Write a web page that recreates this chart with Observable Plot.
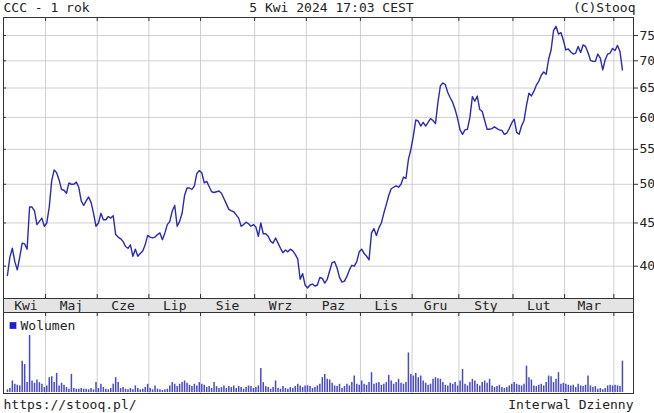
<!DOCTYPE html>
<html>
<head>
<meta charset="utf-8">
<script src="https://cdn.jsdelivr.net/npm/d3@7"></script>
<script src="https://cdn.jsdelivr.net/npm/@observablehq/plot@0.6"></script>
<style>
  html, body { margin: 0; padding: 0; background: #fff; }
  #chart { position: relative; width: 654px; height: 413px; background: #fff; overflow: hidden; }
  #chart svg { position: absolute; left: 0; }
</style>
</head>
<body>
<div id="chart"></div>
<script>
// ---- Data (trading-day index 0..250, 5 Apr 2023 .. 5 Apr 2024) ----
const closePrices = [
  39.0, 41.0, 42.0, 40.5, 39.6, 41.0, 42.6, 42.5, 41.9, 47.0,
  47.0, 46.5, 44.8, 45.2, 45.6, 44.6, 45.0, 47.0, 50.5, 52.0,
  51.6, 50.6, 49.3, 49.2, 48.8, 50.2, 50.0, 50.0, 50.3, 49.6,
  47.8, 47.2, 47.8, 48.3, 47.6, 46.2, 44.6, 45.0, 46.2, 45.4,
  45.4, 45.8, 45.6, 45.9, 43.6, 43.3, 43.1, 42.8, 42.2, 42.0,
  42.4, 41.1, 41.9, 41.1, 41.4, 41.7, 42.4, 43.5, 43.3, 43.2,
  43.3, 43.6, 43.8, 43.0, 43.8, 44.8, 45.2, 46.5, 47.2, 44.6,
  45.2, 46.2, 48.5, 49.5, 49.5, 49.3, 49.8, 51.5, 51.9, 51.6,
  50.2, 50.4, 49.7, 49.0, 48.9, 49.0, 49.1, 48.8, 48.1, 47.4,
  46.7, 46.5, 46.4, 46.0, 45.6, 44.6, 44.8, 45.1, 44.9, 44.6,
  44.8, 44.5, 43.4, 45.0, 43.7, 43.7, 43.4, 42.8, 42.6, 43.2,
  42.6, 42.0, 41.5, 41.8, 41.6, 41.9, 41.7, 41.3, 40.8, 38.6,
  39.2, 38.0, 37.7, 38.0, 38.1, 37.9, 38.0, 38.8, 38.7, 38.2,
  38.6, 39.5, 40.4, 40.5, 39.8, 38.8, 38.3, 38.4, 38.9, 39.6,
  40.1, 40.0, 40.5, 41.6, 41.9, 41.4, 41.1, 40.7, 43.8, 44.3,
  43.5, 44.4, 45.0, 46.2, 47.3, 48.5, 49.4, 49.6, 49.8, 49.6,
  50.0, 51.0, 50.8, 53.5, 55.0, 57.0, 59.6, 59.4, 58.6, 59.2,
  58.6, 59.2, 59.8, 59.5, 59.0, 62.5, 65.4, 65.9, 65.6, 64.2,
  63.3, 62.5, 61.3, 59.8, 58.0, 57.3, 58.0, 58.1, 60.0, 63.5,
  62.7, 63.6, 61.3, 61.0, 59.5, 58.1, 58.1, 58.2, 58.5, 58.2,
  58.0, 57.9, 57.3, 57.5, 58.2, 59.1, 59.7, 57.6, 57.3, 58.6,
  59.5, 62.0, 64.1, 63.6, 64.4, 65.5, 66.2, 67.3, 67.9, 67.5,
  70.3, 72.1, 76.0, 76.9, 75.3, 75.6, 74.0, 72.1, 72.3, 71.7,
  71.3, 71.5, 72.8, 71.6, 73.1, 72.8, 71.6, 70.1, 69.9, 69.9,
  71.3, 70.5, 68.3, 70.2, 71.3, 71.5, 72.4, 72.0, 73.0, 71.8, 68.3
];

const volumes = [
  // Kwi
  8,12,35,25,22,20,95,85,30,173,35,28,38,30,25,15,
  // Maj
  20,45,48,30,58,20,28,22,15,10,55,12,10,10,12,10,10,8,12,8,30,
  // Cze
  12,25,15,10,8,12,25,45,30,12,15,10,8,12,8,20,12,8,10,15,25,
  // Lip
  12,8,20,10,8,6,8,10,20,30,25,18,25,30,35,28,22,18,25,20,30,
  // Sie
  25,22,15,18,12,30,18,12,15,20,12,18,15,20,12,18,15,10,15,20,18,12,
  // Wrz
  15,20,73,30,18,15,10,15,35,12,10,18,12,10,15,12,18,25,20,15,20,
  // Paz
  20,18,12,15,20,25,45,55,40,38,28,20,18,25,12,18,25,20,30,50,25,22,
  // Lis
  35,25,22,30,60,25,28,30,22,25,30,52,35,25,30,40,28,25,30,120,55,
  // Gru
  50,58,45,50,35,28,22,25,40,45,42,40,30,22,20,28,25,30,20,
  // Sty
  35,70,25,20,30,40,35,25,20,30,35,28,40,20,15,18,22,15,12,15,20,25,
  // Lut
  30,25,22,20,25,80,45,38,20,18,22,25,20,30,50,48,30,40,60,25,28,
  // Mar
  25,22,20,22,15,25,20,18,22,50,20,15,18,10,12,8,12,20,22,20,
  // Kwi
  22,20,18,95
];

// index of first trading day of each month (Kwi 2023 .. Kwi 2024)
const monthStarts = [0, 16, 37, 58, 79, 101, 122, 144, 165, 184, 206, 227, 247];
const monthNames = ["Kwi","Maj","Cze","Lip","Sie","Wrz","Paz","Lis","Gru","Sty","Lut","Mar"];
const priceTicks = [40, 45, 50, 55, 60, 65, 70, 75];

const titleLeft = "CCC - 1 rok";
const titleCenter = "5 Kwi 2024 17:03 CEST";
const titleRight = "(C)Stooq";
const legendLabel = "Wolumen";
const footerLeft = "https://stooq.pl/";
const footerRight = "Interwal Dzienny";

// ---- derived tables ----
const series = closePrices.map((c, i) => ({i, close: c}));
const volData = volumes.map((v, i) => ({i, v}));
const boundaries = monthStarts.slice(1).map(s => s - 0.5);
const monthLabels = monthNames.map((name, k) => ({
  name, pos: (monthStarts[k] + monthStarts[k + 1] - 1) / 2
}));

const FONT = "'DejaVu Sans Mono', 'Liberation Mono', monospace";
const INK = "#222";
const FRAME = "#333";
const GRID = "#cfcfcf";
const LINE = "#2a2ab4";
const xDomain = [-1.6, 254.5];
const common = {
  width: 654, marginLeft: 3, marginRight: 21,
  style: {fontFamily: FONT, fontSize: "13px", color: INK, background: "transparent", overflow: "visible"}
};
const txt = {fontSize: 13, fill: INK, lineAnchor: "middle"};

// ---- main price chart (page y 0..298) ----
const mainH = 298, mainTop = 17;
const frameH = mainH - mainTop;
const main = Plot.plot({
  ...common,
  height: mainH, marginTop: mainTop, marginBottom: 0,
  x: {domain: xDomain, axis: null},
  y: {type: "log", domain: [40, 75], range: [265.7, 35], axis: null},
  marks: [
    Plot.ruleY(priceTicks, {stroke: GRID}),
    Plot.ruleX(boundaries, {stroke: GRID}),
    Plot.line(series, {x: "i", y: "close", stroke: LINE, strokeWidth: 1.4}),
    Plot.ruleX(boundaries, {stroke: FRAME, insetBottom: frameH - 4}),
    Plot.ruleX(boundaries, {stroke: FRAME, insetTop: frameH - 4}),
    Plot.ruleY(priceTicks, {stroke: FRAME, insetRight: 627}),
    Plot.frame({stroke: FRAME}),
    Plot.axisY({ticks: priceTicks, anchor: "right", tickSize: 4, tickPadding: 2,
      tickFormat: d => String(d), fontSize: 13, stroke: FRAME, fill: INK, label: null}),
    Plot.text([titleLeft], {...txt, frameAnchor: "top-left", dy: -10, textAnchor: "start"}),
    Plot.text([titleCenter], {...txt, frameAnchor: "top", dx: 13, dy: -10}),
    Plot.text([titleRight], {...txt, frameAnchor: "top-right", dx: 2, dy: -10, textAnchor: "end"})
  ]
});
main.style.top = "0px";

// ---- month label band (page y 297..313) ----
const band = Plot.plot({
  ...common,
  height: 16, marginTop: 1, marginBottom: 1,
  x: {domain: xDomain, axis: null},
  marks: [
    Plot.frame({fill: "#e4e4e4", stroke: FRAME}),
    Plot.text(monthLabels, {...txt, x: "pos", text: "name"})
  ]
});
band.style.top = "297px";

// ---- volume panel (page y 312..413) ----
const volH = 101, volBottom = 20;
const volFrameH = volH - volBottom;
const vol = Plot.plot({
  ...common,
  height: volH, marginTop: 0, marginBottom: volBottom,
  x: {domain: xDomain, axis: null},
  y: {domain: [0, 173], range: [80, 23], axis: null},
  marks: [
    Plot.ruleX(boundaries, {stroke: GRID}),
    Plot.ruleX(volData, {x: "i", y1: 0, y2: "v", stroke: "#4848cc", strokeWidth: 1.5}),
    Plot.ruleX(boundaries, {stroke: FRAME, insetBottom: volFrameH - 4}),
    Plot.frame({stroke: FRAME}),
    Plot.dot([legendLabel], {frameAnchor: "top-left", dx: 9.5, dy: 13, symbol: "square", r: 3.8, fill: "#1c1cd0", stroke: "none"}),
    Plot.text([legendLabel], {...txt, frameAnchor: "top-left", dx: 17, dy: 13, textAnchor: "start"}),
    Plot.text([footerLeft], {...txt, frameAnchor: "bottom-left", dy: 11, textAnchor: "start"}),
    Plot.text([footerRight], {...txt, frameAnchor: "bottom-right", dy: 11, textAnchor: "end"})
  ]
});
vol.style.top = "312px";

const root = document.getElementById("chart");
root.append(main, band, vol);
</script>
</body>
</html>
